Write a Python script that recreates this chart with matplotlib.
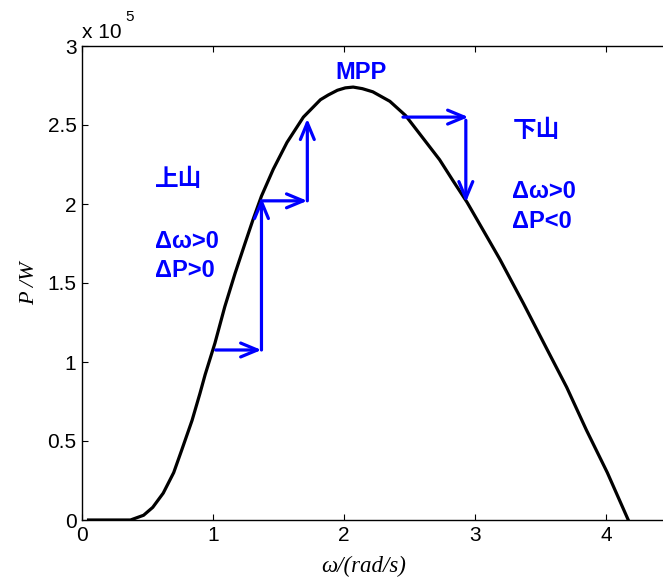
import matplotlib
matplotlib.use("Agg")
import matplotlib.pyplot as plt

# P-omega curve (P in units of 1e5 W)
omega = [0.05, 0.20, 0.37, 0.47, 0.54, 0.62, 0.70, 0.76, 0.84, 0.90, 0.94, 1.015,
         1.09, 1.168, 1.244, 1.305, 1.37, 1.46, 1.565, 1.69, 1.82, 1.88, 1.95,
         2.01, 2.07, 2.14, 2.22, 2.35, 2.47, 2.60, 2.73, 2.83, 2.94, 3.10, 3.19,
         3.37, 3.55, 3.70, 3.85, 4.01, 4.17]
power = [0, 0, 0, 0.03, 0.08, 0.17, 0.30, 0.44, 0.63, 0.80, 0.92, 1.12,
         1.35, 1.56, 1.75, 1.90, 2.05, 2.22, 2.39, 2.55, 2.66, 2.69, 2.72,
         2.735, 2.74, 2.73, 2.71, 2.65, 2.56, 2.42, 2.28, 2.15, 2.01, 1.78, 1.65,
         1.37, 1.08, 0.84, 0.57, 0.30, 0.0]

# hill-climbing steps: (start, end)
climb_steps = [((1.02, 1.076), (1.37, 1.076)),
               ((1.37, 1.076), (1.37, 2.04)),
               ((1.37, 2.02), (1.72, 2.02)),
               ((1.72, 2.02), (1.72, 2.54)),
               ((2.45, 2.55), (2.95, 2.55)),
               ((2.93, 2.53), (2.93, 2.01))]

xticks = [0, 1, 2, 3, 4]
yticks = [0, 0.5, 1, 1.5, 2, 2.5, 3]
ytick_labels = ["0", "0.5", "1", "1.5", "2", "2.5", "3"]

blue = "#0000ff"
sans = ["Liberation Sans", "DejaVu Sans"]
cjk = ["Noto Sans CJK SC", "DejaVu Sans"]
serif = ["Liberation Serif", "DejaVu Serif"]

fig = plt.figure(figsize=(6.63, 5.77), dpi=100)
ax = fig.add_axes([82 / 663, 57 / 577, 589.5 / 663, 474 / 577])

ax.plot(omega, power, color="black", linewidth=2.3, solid_joinstyle="round")

for (x0, y0), (x1, y1) in climb_steps:
    ax.annotate("", xy=(x1, y1), xytext=(x0, y0),
                arrowprops=dict(arrowstyle="->,head_length=0.6,head_width=0.25",
                                color=blue, lw=2.3, shrinkA=0, shrinkB=0,
                                mutation_scale=20))

bold_kw = dict(color=blue, fontweight="bold", fontsize=17)
ax.text(2.13, 2.83, "MPP", ha="center", va="center", family=sans, **bold_kw)
ax.text(0.555, 2.16, "上山", ha="left", va="center", family=cjk, **bold_kw)
ax.text(0.555, 1.76, "Δω>0", ha="left", va="center", family=sans, **bold_kw)
ax.text(0.555, 1.58, "ΔP>0", ha="left", va="center", family=sans, **bold_kw)
ax.text(3.285, 2.47, "下山", ha="left", va="center", family=cjk, **bold_kw)
ax.text(3.285, 2.08, "Δω>0", ha="left", va="center", family=sans, **bold_kw)
ax.text(3.285, 1.89, "ΔP<0", ha="left", va="center", family=sans, **bold_kw)

ax.set_xlim(0, 4.5)
ax.set_ylim(0, 3)
ax.set_xticks(xticks)
ax.set_xticklabels([str(t) for t in xticks], family=sans, fontsize=15)
ax.set_yticks(yticks)
ax.set_yticklabels(ytick_labels, family=sans, fontsize=15)
ax.tick_params(direction="in", length=4, width=0.8, top=True, right=True,
               pad=4, colors="black")
for side in ["left", "bottom", "top", "right"]:
    ax.spines[side].set_linewidth(1.0)

# exponent label, MATLAB style
ax.text(0.0, 1.017, "x 10", transform=ax.transAxes, ha="left", va="baseline",
        family=sans, fontsize=15)
ax.text(0.073, 1.052, "5", transform=ax.transAxes, ha="left", va="baseline",
        family=sans, fontsize=11)

ax.set_xlabel("ω/(rad/s)", family=serif, style="italic", fontsize=16.5, labelpad=2)
ax.xaxis.set_label_coords((364 - 82) / 589.5, -0.075)
ax.set_ylabel("P /W", family=serif, style="italic", fontsize=16, labelpad=6)

fig.savefig("out.png", dpi=100)
